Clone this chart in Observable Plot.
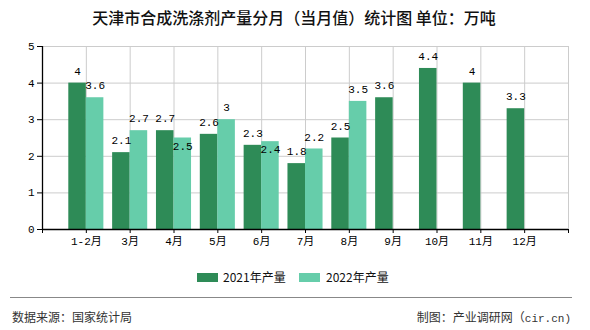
<!DOCTYPE html>
<html><head><meta charset="utf-8">
<script src="https://cdn.jsdelivr.net/npm/d3@7"></script>
<script src="https://cdn.jsdelivr.net/npm/@observablehq/plot@0.6"></script>
<style>
body{margin:0;background:#fff;width:590px;height:330px;position:relative;overflow:hidden;font-family:"Noto Sans CJK SC","Noto Sans",sans-serif;}
#title{position:absolute;top:5px;left:0;width:588px;text-align:center;font-size:16px;font-weight:500;color:#111;}
#chart{position:absolute;top:30px;left:0;}
#legend{position:absolute;top:268px;left:0;width:590px;font-size:12px;color:#111;}
.sw{position:absolute;width:21px;height:9px;top:5px;}
.lt{position:absolute;top:0;}
#rule{position:absolute;top:297px;left:10px;width:562px;height:0;border-top:1.5px solid #888;}
#src{position:absolute;top:308px;left:12px;font-size:12px;color:#333;}
#maker{position:absolute;top:308px;right:19px;font-size:12px;color:#333;}
#maker .m{font-family:"Liberation Mono",monospace;font-size:11px;}
</style></head>
<body>
<div id="title">天津市合成洗涤剂产量分月（当月值）统计图 单位：万吨</div>
<div id="chart"></div>
<div id="legend"></div>
<div id="rule"></div>
<div id="src">数据来源：国家统计局</div>
<div id="maker">制图：产业调研网（<span class="m">cir.cn)</span></div>
<script>
const months = ["1-2月","3月","4月","5月","6月","7月","8月","9月","10月","11月","12月"];
const v2021 = [4, 2.1, 2.7, 2.6, 2.3, 1.8, 2.5, 3.6, 4.4, 4, 3.3];
const v2022 = [3.6, 2.7, 2.5, 3, 2.4, 2.2, 3.5];
const seriesNames = ["2021年产量", "2022年产量"];
const colors = ["#2e8b57", "#66cdaa"];
const yTicks = [0, 1, 2, 3, 4, 5];

const rows = [];
v2021.forEach((v, i) => rows.push({i, s: 0, v}));
v2022.forEach((v, i) => rows.push({i, s: 1, v}));

// label collision: a 2022 label too close to its 2021 neighbour drops below the bar top
const pxPerUnit = (199 - 16) / 5;
const collides = d => d.s === 1 && Math.abs(d.v - v2021[d.i]) * pxPerUnit < 11;
const normalLabels = rows.filter(d => !collides(d));
const movedLabels = rows.filter(collides);

const half = 0.4;
const mono = "'Liberation Mono','Noto Sans CJK SC',monospace";
const labelX = d => d.i + (d.s === 0 ? -half / 2 : half / 2);

const plot = Plot.plot({
  width: 590,
  height: 230,
  marginLeft: 42,
  marginRight: 22,
  marginTop: 16,
  marginBottom: 31,
  style: {fontFamily: mono, fontSize: "11px", color: "#000", background: "transparent"},
  x: {domain: [-1, months.length], axis: null},
  y: {domain: [0, 5], axis: null},
  marks: [
    Plot.gridY(yTicks.slice(1), {stroke: "#cccccc", strokeOpacity: 1}),
    Plot.gridX(d3.range(0, months.length + 1), {stroke: "#cccccc", strokeOpacity: 1}),
    Plot.rectY(rows, {
      x1: d => d.i + (d.s === 0 ? -half : 0),
      x2: d => d.i + (d.s === 0 ? 0 : half),
      y1: 0, y2: "v",
      fill: d => colors[d.s]
    }),
    Plot.text(normalLabels, {
      x: labelX, y: "v", text: d => String(d.v), dy: -12,
      fontSize: 11, fill: "#000", fontFamily: mono
    }),
    Plot.text(movedLabels, {
      x: labelX, y: "v", text: d => String(d.v), dy: 8,
      fontSize: 11, fill: "#000", fontFamily: mono
    }),
    Plot.axisX(d3.range(-1, months.length + 1), {
      tickFormat: d => (d >= 0 && d < months.length ? months[d] : ""),
      tickSize: 4, tickPadding: 4, stroke: "#000", fontSize: 11, fill: "#000", label: null
    }),
    Plot.axisY(yTicks, {tickSize: 5, tickPadding: 3, stroke: "#000", fontSize: 11, fill: "#000", label: null}),
    Plot.ruleY([0], {stroke: "#000", strokeWidth: 1.3}),
    Plot.ruleX([-1], {stroke: "#000", strokeWidth: 1.3})
  ]
});
document.getElementById("chart").appendChild(plot);

const legend = document.getElementById("legend");
const pos = [[197, 223], [299, 326]];
seriesNames.forEach((n, k) => {
  const sw = document.createElement("div");
  sw.className = "sw"; sw.style.left = pos[k][0] + "px"; sw.style.background = colors[k];
  const t = document.createElement("div");
  t.className = "lt"; t.style.left = pos[k][1] + "px"; t.textContent = n;
  legend.appendChild(sw); legend.appendChild(t);
});
</script>
</body></html>
